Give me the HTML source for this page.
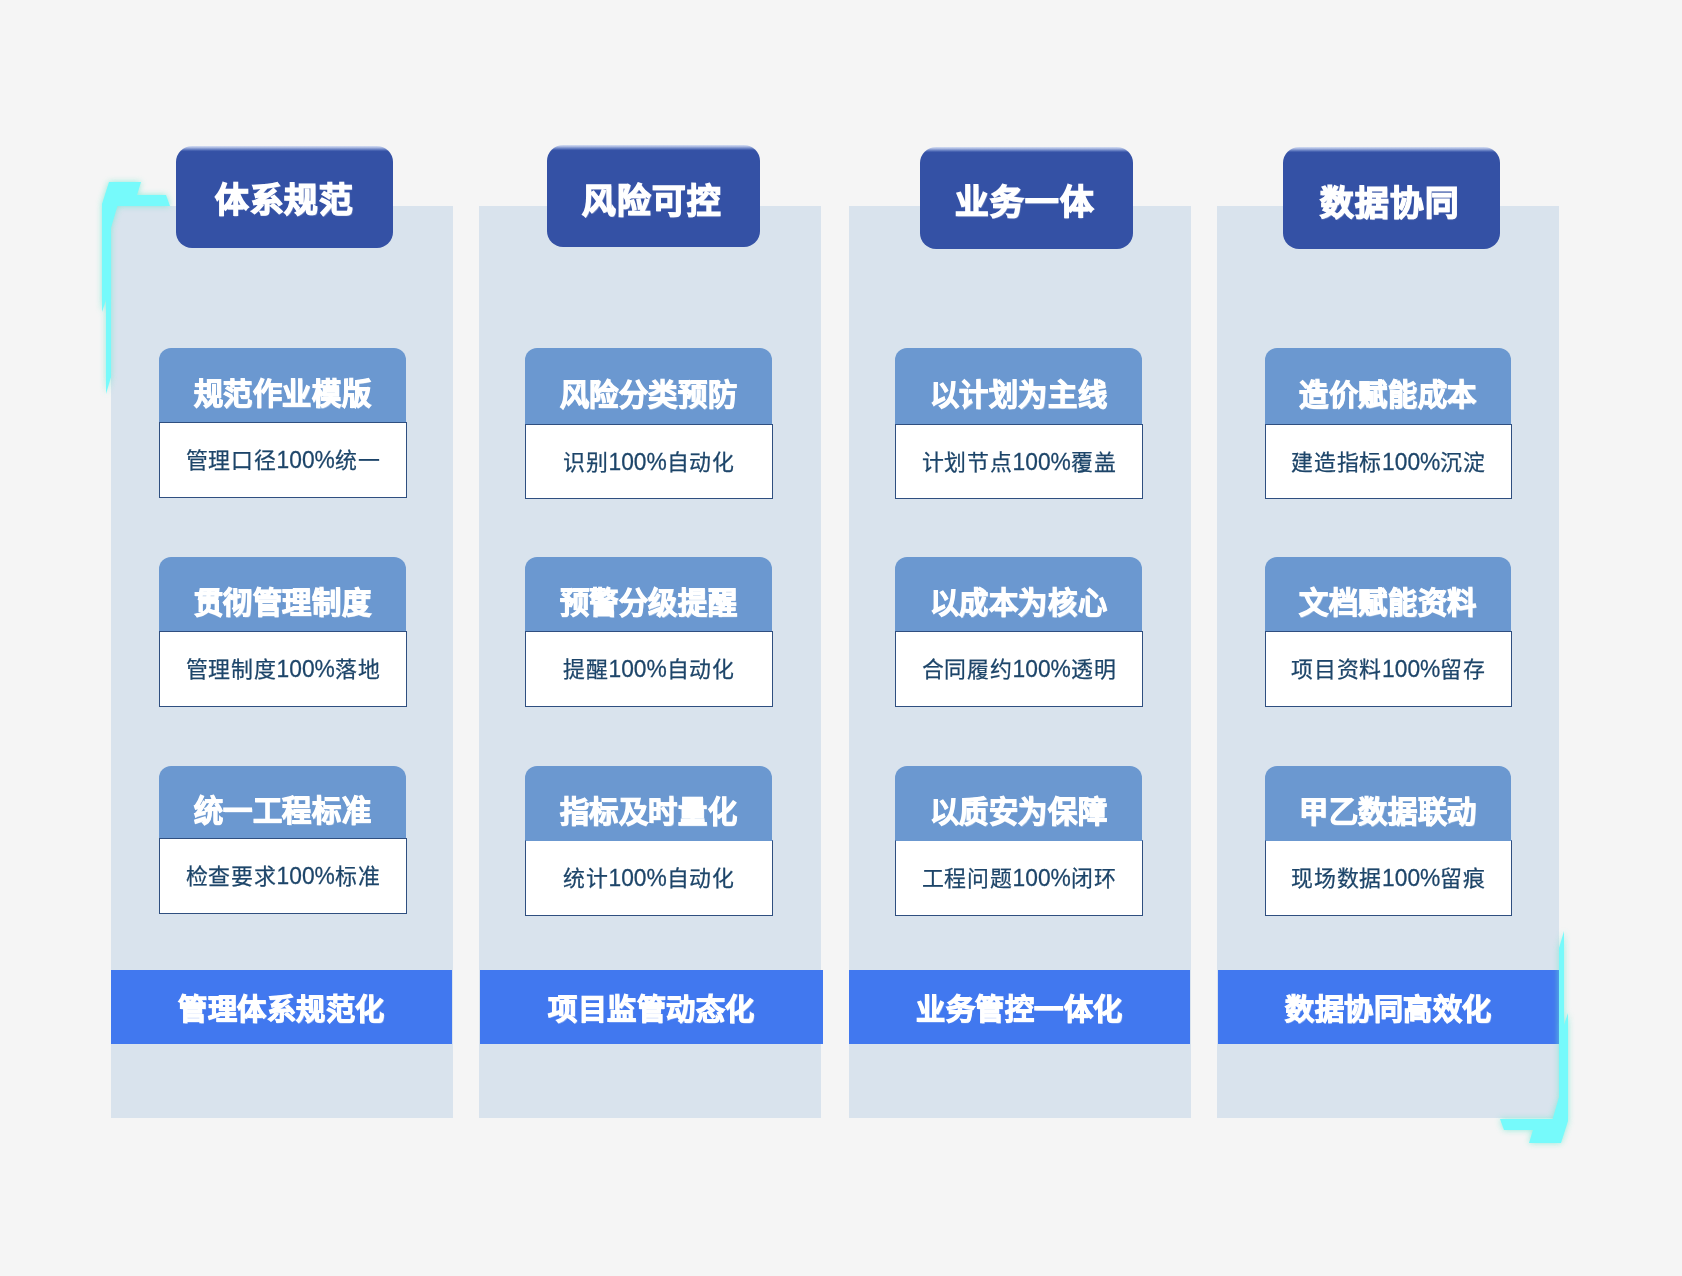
<!DOCTYPE html>
<html lang="zh-CN">
<head>
<meta charset="utf-8">
<title>管理体系</title>
<style>
*{margin:0;padding:0;box-sizing:border-box}
html,body{width:1682px;height:1276px;overflow:hidden;background:#f5f5f5}
body{position:relative;font-family:"Liberation Sans",sans-serif}
.title,.hd,.bx,.ft{will-change:transform}
.deco{position:absolute;left:0;top:0;width:1682px;height:1276px;overflow:visible;z-index:1;pointer-events:none}
.panel{position:absolute;top:206px;height:912px;background:#d9e3ed}
.title{position:absolute;z-index:2;border-radius:16px;background:linear-gradient(to bottom,#d6dff3 0,#a9b8e0 1.6px,#6f87c7 3.2px,#3f5bac 4.8px,#3451a5 5.6px);color:#fff;font-weight:900;font-size:33.6px;letter-spacing:.9px;padding-right:3px;text-align:center;white-space:nowrap;-webkit-text-stroke:1.4px #fff;text-shadow:.5px .5px 1px rgba(255,255,255,.45)}
.hd{position:absolute;background:#6b98d0;border-radius:12px 12px 0 0;color:#fff;font-weight:900;font-size:29.2px;letter-spacing:.6px;text-align:center;white-space:nowrap;-webkit-text-stroke:1.05px #fff;text-shadow:.6px .6px .6px rgba(255,255,255,.4)}
.bx{position:absolute;background:#fff;border:1px solid #2f4f80;color:#1d4569;font-size:21.9px;letter-spacing:.7px;-webkit-text-stroke:.25px #1d4569;text-align:center;white-space:nowrap}
.n{display:inline-block;line-height:1;font-size:22.8px;letter-spacing:0;transform:scaleY(1.06);transform-origin:50% 84.6%}
.ft{position:absolute;top:970px;height:74px;background:#4178ef;color:#fff;font-weight:900;font-size:29.1px;letter-spacing:.5px;text-align:center;white-space:nowrap;line-height:81.4px;-webkit-text-stroke:1.05px #fff;text-shadow:.6px .6px .6px rgba(255,255,255,.4)}
</style>
</head>
<body>

<div class="panel" style="left:111px;width:342px"></div>
<div class="panel" style="left:479px;width:342px"></div>
<div class="panel" style="left:849px;width:342px"></div>
<div class="panel" style="left:1217px;width:342px"></div>

<svg class="deco" viewBox="0 0 1682 1276">
<defs><filter id="glow" x="-60%" y="-20%" width="220%" height="140%"><feGaussianBlur stdDeviation="3.2"/></filter></defs>
<g>
<polygon filter="url(#glow)" fill="#6fe8d0" opacity=".75" points="109,182 141,182 137,195 166,195 170,206 117.4,206 111,227.7 111,377 106,394 106,300 102,312 102,204"/>
<polygon fill="#76fafb" points="109,182 141,182 137,195 166,195 170,206 117.4,206 111,227.7 111,377 106,394 106,300 102,312 102,204"/>
</g>
<g transform="translate(1670,1325) rotate(180)">
<polygon filter="url(#glow)" fill="#6fe8d0" opacity=".75" points="109,182 141,182 137,195 166,195 170,206 117.4,206 111,227.7 111,377 106,394 106,300 102,312 102,204"/>
<polygon fill="#76fafb" points="109,182 141,182 137,195 166,195 170,206 117.4,206 111,227.7 111,377 106,394 106,300 102,312 102,204"/>
</g>
</svg>
<div class="title" style="left:176px;top:146px;width:217px;height:102px;padding-right:0;line-height:110px">体系规范</div>
<div class="title" style="left:547px;top:145px;width:213px;height:102px;line-height:113px">风险可控</div>
<div class="title" style="left:920px;top:147px;width:213px;height:102px;line-height:112.6px">业务一体</div>
<div class="title" style="left:1283px;top:147px;width:217px;height:102px;line-height:113px">数据协同</div>
<div class="hd" style="left:159px;top:348px;width:247px;height:75px;line-height:92px">规范作业模版</div>
<div class="bx" style="left:159px;top:422px;width:248px;height:76px;line-height:75px">管理口径<span class="n">100%</span>统一</div>
<div class="hd" style="left:159px;top:557px;width:247px;height:75px;line-height:92px">贯彻管理制度</div>
<div class="bx" style="left:159px;top:631px;width:248px;height:76px;line-height:75px">管理制度<span class="n">100%</span>落地</div>
<div class="hd" style="left:159px;top:766px;width:247px;height:73px;line-height:90px">统一工程标准</div>
<div class="bx" style="left:159px;top:838px;width:248px;height:76px;line-height:75px">检查要求<span class="n">100%</span>标准</div>
<div class="hd" style="left:525px;top:348px;width:247px;height:77px;line-height:94px">风险分类预防</div>
<div class="bx" style="left:525px;top:424px;width:248px;height:75px;line-height:76px">识别<span class="n">100%</span>自动化</div>
<div class="hd" style="left:525px;top:557px;width:247px;height:75px;line-height:92px">预警分级提醒</div>
<div class="bx" style="left:525px;top:631px;width:248px;height:76px;line-height:75.6px">提醒<span class="n">100%</span>自动化</div>
<div class="hd" style="left:525px;top:766px;width:247px;height:75px;line-height:92px">指标及时量化</div>
<div class="bx" style="border-top-color:#6b98d0;left:525px;top:840px;width:248px;height:76px;line-height:75.6px">统计<span class="n">100%</span>自动化</div>
<div class="hd" style="left:895px;top:348px;width:247px;height:77px;line-height:94px">以计划为主线</div>
<div class="bx" style="left:895px;top:424px;width:248px;height:75px;line-height:76px">计划节点<span class="n">100%</span>覆盖</div>
<div class="hd" style="left:895px;top:557px;width:247px;height:75px;line-height:92px">以成本为核心</div>
<div class="bx" style="left:895px;top:631px;width:248px;height:76px;line-height:75.6px">合同履约<span class="n">100%</span>透明</div>
<div class="hd" style="left:895px;top:766px;width:247px;height:75px;line-height:92px">以质安为保障</div>
<div class="bx" style="border-top-color:#6b98d0;left:895px;top:840px;width:248px;height:76px;line-height:75.6px">工程问题<span class="n">100%</span>闭环</div>
<div class="hd" style="left:1265px;top:348px;width:246px;height:77px;line-height:94px">造价赋能成本</div>
<div class="bx" style="left:1265px;top:424px;width:247px;height:75px;line-height:76px">建造指标<span class="n">100%</span>沉淀</div>
<div class="hd" style="left:1265px;top:557px;width:246px;height:75px;line-height:92px">文档赋能资料</div>
<div class="bx" style="left:1265px;top:631px;width:247px;height:76px;line-height:75.6px">项目资料<span class="n">100%</span>留存</div>
<div class="hd" style="left:1265px;top:766px;width:246px;height:75px;line-height:92px">甲乙数据联动</div>
<div class="bx" style="border-top-color:#6b98d0;left:1265px;top:840px;width:247px;height:76px;line-height:75.6px">现场数据<span class="n">100%</span>留痕</div>
<div class="ft" style="left:111px;width:341px">管理体系规范化</div>
<div class="ft" style="left:480px;width:343px">项目监管动态化</div>
<div class="ft" style="left:849px;width:341px">业务管控一体化</div>
<div class="ft" style="left:1218px;width:341px">数据协同高效化</div>
</body>
</html>
